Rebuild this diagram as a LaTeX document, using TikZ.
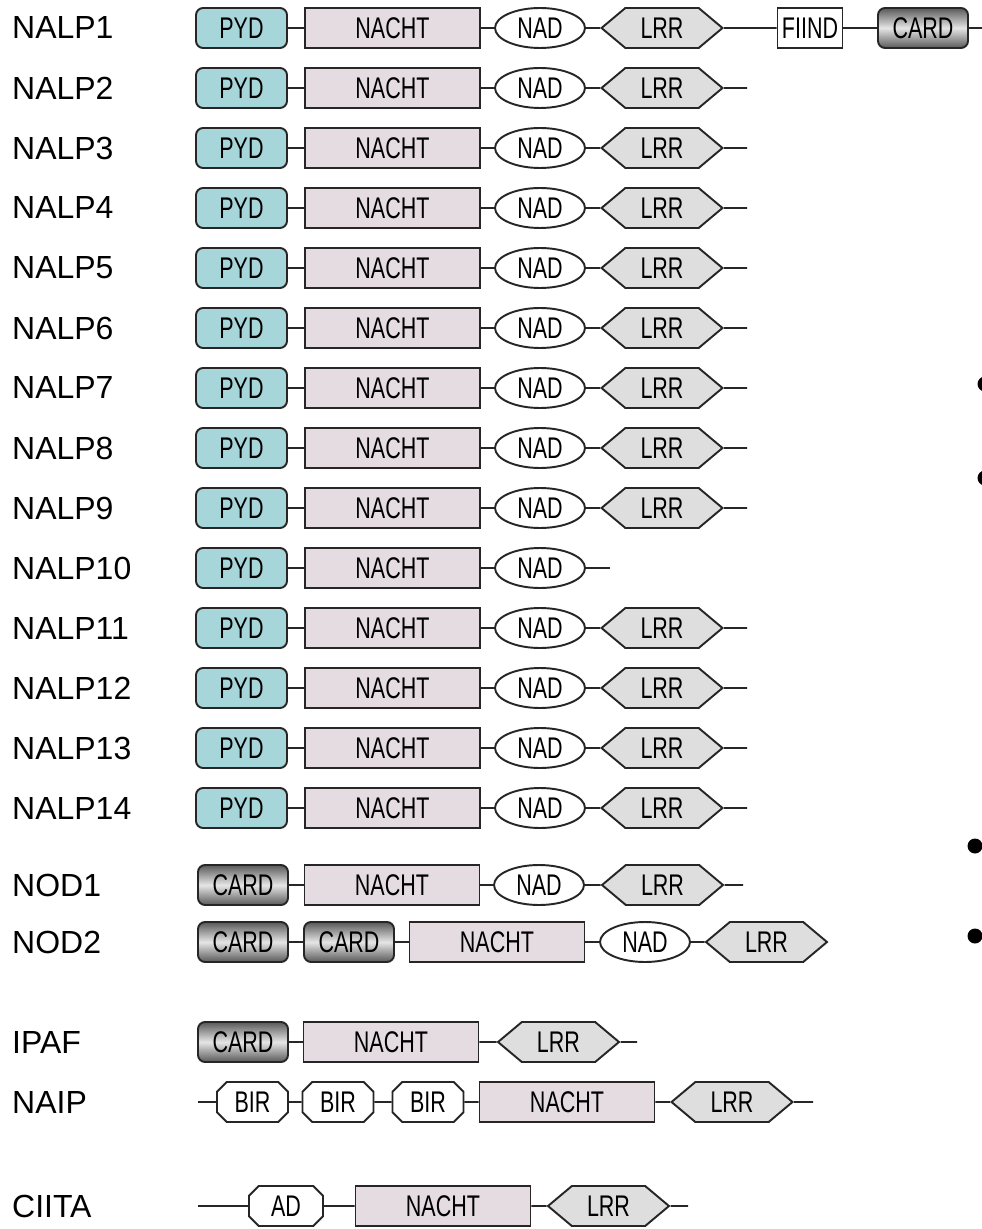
\documentclass[tikz,border=0pt]{standalone}
\usepackage{fontspec}
\setmainfont{Liberation Sans}
\newfontfamily\narrowfam[FakeStretch=0.72]{Liberation Sans}
\usetikzlibrary{shapes.geometric,shapes.symbols,shapes.misc}
\definecolor{pydcol}{RGB}{166,213,218}
\definecolor{nachtcol}{RGB}{228,220,224}
\definecolor{lrrcol}{RGB}{222,222,222}
\newcommand\labelfont{\fontsize{18.2}{20}\selectfont}
\newcommand\boxfont{\narrowfam\fontsize{17}{20}\selectfont}

\begin{document}
\begin{tikzpicture}[
    x=0.02cm, y=-0.02cm,
    box/.style={draw=black!85, line width=1.1pt, minimum height=0.8cm, inner sep=1pt, font=\boxfont},
    pyd/.style={box, rounded corners=4pt, fill=pydcol, minimum width=1.82cm},
    nacht/.style={box, fill=nachtcol, minimum width=3.5cm},
    nad/.style={box, ellipse, fill=white, minimum width=1.8cm},
    lrr/.style={box, signal, signal to={east and west}, signal pointer angle=80, fill=lrrcol, minimum width=2.42cm},
    card/.style={box, rounded corners=4pt, top color=black!65, bottom color=black!65, middle color=black!10, minimum width=1.8cm},
    fiind/.style={box, fill=white, minimum width=1.3cm},
    bir/.style={box, chamfered rectangle, chamfered rectangle xsep=2.5pt, chamfered rectangle ysep=3pt, fill=white, minimum width=1.42cm},
    link/.style={line width=1.1pt, black!85},
    protname/.style={anchor=west, font=\labelfont}
]
\useasboundingbox (0,0) rectangle (982,1229);

% NALP family
\foreach \i in {1,...,14} {
  \pgfmathsetmacro\yy{28+60*(\i-1)}
  \node[protname] (lab\i) at (6,\yy) {NALP\i};
  \node[pyd] (pyd\i) at (241.5,\yy) {PYD};
  \node[nacht] (nacht\i) at (392.5,\yy) {NACHT};
  \node[nad] (nad\i) at (540,\yy) {NAD};
  \draw[link] (pyd\i) -- (nacht\i);
  \draw[link] (nacht\i) -- (nad\i);
}
\foreach \i in {1,...,9,11,12,13,14} {
  \pgfmathsetmacro\yy{28+60*(\i-1)}
  \node[lrr] (lrr\i) at (662,\yy) {LRR};
  \draw[link] (nad\i) -- (lrr\i);
}
\foreach \i in {2,...,9,11,12,13,14} {
  \coordinate (end\i) at (747,{28+60*(\i-1)});
  \draw[link] (lrr\i) -- (end\i);
}
\coordinate (end10) at (610,568);
\draw[link] (nad10) -- (end10);

% NALP1 tail
\node[fiind] (fiind1) at (810,28) {FIIND};
\node[card] (card1) at (923,28) {CARD};
\coordinate (end1) at (982,28);
\draw[link] (lrr1) -- (fiind1);
\draw[link] (fiind1) -- (card1);
\draw[link] (card1) -- (end1);

% NOD1
\node[protname] (labnod1) at (6,885) {NOD1};
\node[card] (cardA) at (243,885) {CARD};
\node[nacht] (nachtA) at (392,885) {NACHT};
\node[nad] (nadA) at (539,885) {NAD};
\node[lrr] (lrrA) at (662.5,885) {LRR};
\coordinate (endA) at (743,885);
\draw[link] (cardA) -- (nachtA);
\draw[link] (nachtA) -- (nadA);
\draw[link] (nadA) -- (lrrA);
\draw[link] (lrrA) -- (endA);

% NOD2
\node[protname] (labnod2) at (6,942) {NOD2};
\node[card] (cardB) at (243,942) {CARD};
\node[card] (cardBB) at (349,942) {CARD};
\node[nacht] (nachtB) at (497,942) {NACHT};
\node[nad] (nadB) at (645,942) {NAD};
\node[lrr] (lrrB) at (766.5,942) {LRR};
\draw[link] (cardB) -- (cardBB);
\draw[link] (cardBB) -- (nachtB);
\draw[link] (nachtB) -- (nadB);
\draw[link] (nadB) -- (lrrB);

% IPAF
\node[protname] (labipaf) at (6,1042) {IPAF};
\node[card] (cardC) at (243,1042) {CARD};
\node[nacht] (nachtC) at (391,1042) {NACHT};
\node[lrr] (lrrC) at (558.5,1042) {LRR};
\coordinate (endC) at (637,1042);
\draw[link] (cardC) -- (nachtC);
\draw[link] (nachtC) -- (lrrC);
\draw[link] (lrrC) -- (endC);

% NAIP
\node[protname] (labnaip) at (6,1102) {NAIP};
\coordinate (startD) at (198,1102);
\node[bir] (birD1) at (252.5,1102) {BIR};
\node[bir] (birD2) at (338,1102) {BIR};
\node[bir] (birD3) at (428,1102) {BIR};
\node[nacht] (nachtD) at (567,1102) {NACHT};
\node[lrr] (lrrD) at (732,1102) {LRR};
\coordinate (endD) at (813,1102);
\draw[link] (startD) -- (birD1);
\draw[link] (birD1) -- (birD2);
\draw[link] (birD2) -- (birD3);
\draw[link] (birD3) -- (nachtD);
\draw[link] (nachtD) -- (lrrD);
\draw[link] (lrrD) -- (endD);

% CIITA
\node[protname] (labciita) at (6,1206) {CIITA};
\coordinate (startE) at (198,1206);
\node[bir, minimum width=1.48cm] (adE) at (286,1206) {AD};
\node[nacht] (nachtE) at (443,1206) {NACHT};
\node[lrr] (lrrE) at (608.5,1206) {LRR};
\coordinate (endE) at (688,1206);
\draw[link] (startE) -- (adE);
\draw[link] (adE) -- (nachtE);
\draw[link] (nachtE) -- (lrrE);
\draw[link] (lrrE) -- (endE);

% stray bullets at the right edge
\fill (985,384) circle[radius=0.15cm];
\fill (985,478) circle[radius=0.15cm];
\fill (975,846) circle[radius=0.15cm];
\fill (975,936) circle[radius=0.15cm];
\end{tikzpicture}
\end{document}
